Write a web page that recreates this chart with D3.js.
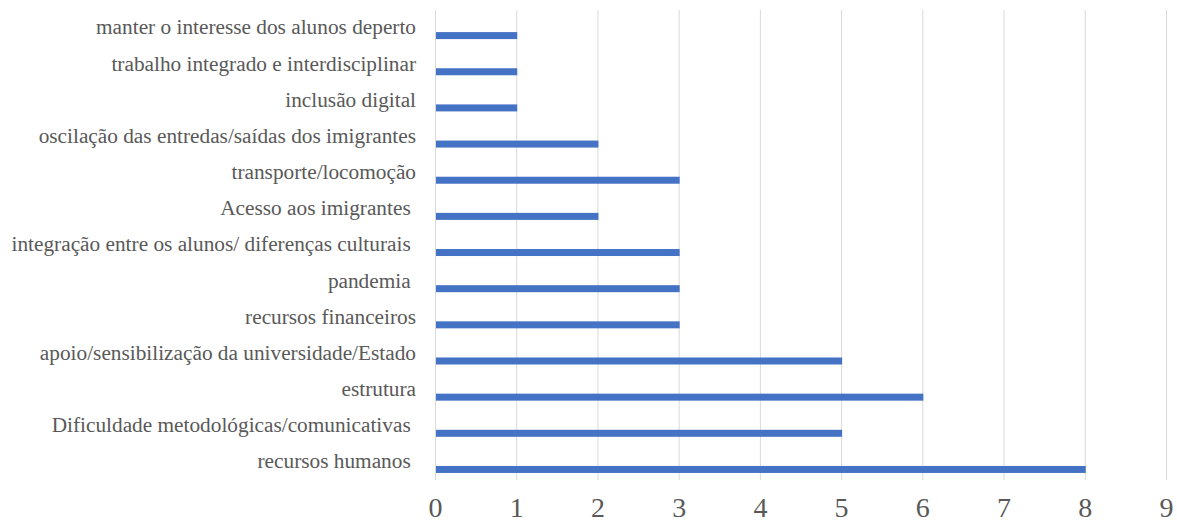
<!DOCTYPE html>
<html>
<head>
<meta charset="utf-8">
<script src="https://cdn.jsdelivr.net/npm/d3@7"></script>
<style>
    body { margin: 0; background: #fff; }
    svg { display: block; }
    svg text { white-space: pre; font-family: "Liberation Serif", "Times New Roman", Times, serif; fill: #595959; }
</style>
</head>
<body>
<div id="chart"></div>
<script>
// categorias (de cima para baixo) e valores
const categorias = [
    "manter o interesse dos alunos deperto",
    "trabalho integrado e interdisciplinar",
    "inclusão digital",
    "oscilação das entredas/saídas dos imigrantes",
    "transporte/locomoção",
    "Acesso aos imigrantes ",
    "integração entre os alunos/ diferenças culturais ",
    "pandemia ",
    "recursos financeiros",
    "apoio/sensibilização da universidade/Estado",
    "estrutura",
    "Dificuldade metodológicas/comunicativas ",
    "recursos humanos "
];
const valores = [1, 1, 1, 2, 3, 2, 3, 3, 3, 5, 6, 5, 8];
const ticksX = [0, 1, 2, 3, 4, 5, 6, 7, 8, 9];

const margin = { top: 10, right: 11, bottom: 44, left: 435 },
    width = 1177 - margin.left - margin.right,
    height = 524 - margin.top - margin.bottom;

const svg = d3.select("#chart").append("svg")
    .attr("width", 1177)
    .attr("height", 524);

const g = svg.append("g")
    .attr("transform", "translate(" + margin.left + "," + margin.top + ")");

const x = d3.scaleLinear()
    .domain([0, 9])
    .range([0, width]);

const y = d3.scaleBand()
    .domain(categorias)
    .range([0, height]);

// Excel deixa um lugar vazio para uma segunda série, a barra fica abaixo do centro
const ySub = d3.scaleBand()
    .domain(["vazio", "valor"])
    .range([0, y.step()])
    .paddingInner(0.535)
    .paddingOuter(0.468);

// grade vertical
g.append("g")
    .selectAll("line")
    .data(ticksX)
    .enter()
    .append("line")
    .attr("x1", d => x(d) + 0.5)
    .attr("x2", d => x(d) + 0.5)
    .attr("y1", 0)
    .attr("y2", height)
    .style("stroke", "#d9d9d9")
    .style("stroke-width", 1);

// barras
g.selectAll("rect")
    .data(valores)
    .enter()
    .append("rect")
    .attr("x", x(0) + 1)
    .attr("y", (d, i) => y(categorias[i]) + ySub("valor"))
    .attr("width", d => x(d) - x(0))
    .attr("height", ySub.bandwidth())
    .style("fill", "#4472c4");

// eixo y (rótulos)
const ay = g.append("g")
    .call(d3.axisLeft(y).tickSize(0).tickPadding(19));
ay.attr("font-family", null);
ay.select(".domain").remove();
ay.selectAll("text")
    .attr("dy", "0.3em")
    .attr("fill", null)
    .style("font-size", "21.3px");

// eixo x
const ax = g.append("g")
    .attr("transform", "translate(0," + height + ")")
    .call(d3.axisBottom(x).tickValues(ticksX).tickSize(0));
ax.attr("font-family", null);
ax.select(".domain").remove();
ax.selectAll("text")
    .attr("y", 37)
    .attr("dy", "0")
    .attr("fill", null)
    .style("font-size", "28px");
</script>
</body>
</html>
